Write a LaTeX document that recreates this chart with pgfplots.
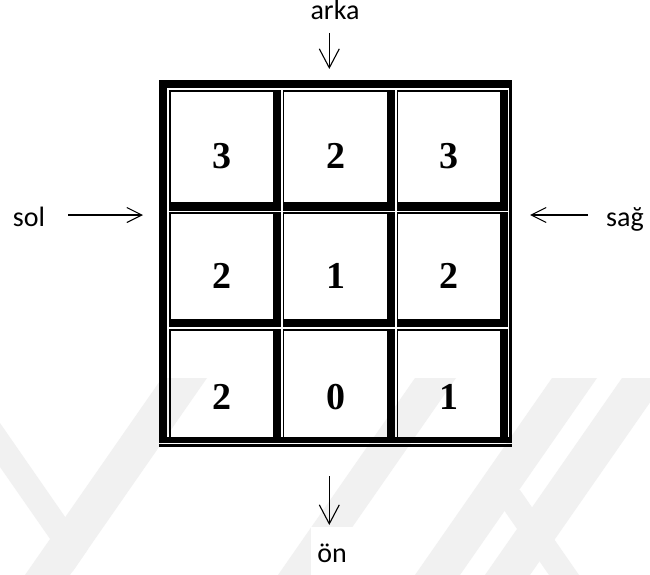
\documentclass[border=0pt]{standalone}
\usepackage{pgfplots}
\pgfplotsset{compat=1.18}
\usepackage{pgfplotstable}
\usepackage{fontspec}
\setmainfont{Carlito}
\newfontfamily\numfont{Liberation Serif}
\usetikzlibrary{arrows.meta}
\definecolor{wm}{RGB}{241,241,241}

\pgfplotstableread{
x y label
222 156 3
335.5 156 2
449 156 3
222 276 2
335.5 276 1
449 276 2
222 396.7 2
335.5 396.7 0
449 396.7 1
}\cellvalues

\newcommand{\cell}[8]{%
 \fill[black] (axis cs:#1,#5) rectangle (axis cs:#4,#6);
 \fill[black] (axis cs:#1,#5) rectangle (axis cs:#2,#8);
 \fill[black] (axis cs:#3,#5) rectangle (axis cs:#4,#8);
 \fill[black] (axis cs:#1,#7) rectangle (axis cs:#4,#8);
}

\begin{document}
\begin{tikzpicture}
\begin{axis}[
  width=650pt, height=575pt, scale only axis,
  xmin=0, xmax=650, ymin=0, ymax=575, y dir=reverse,
  hide axis, clip=true
]
% background
\fill[white] (axis cs:0,0) rectangle (axis cs:650,575);
% faint watermark bands
\fill[wm] (axis cs:162,378) -- (axis cs:207,378) -- (axis cs:70,575) -- (axis cs:25,575) -- cycle;
\fill[wm] (axis cs:0,423) -- (axis cs:87.7,549.5) -- (axis cs:72.7,571.5) -- (axis cs:0,467) -- cycle;
\fill[wm] (axis cs:415,378) -- (axis cs:456,378) -- (axis cs:319,575) -- (axis cs:278,575) -- cycle;
\fill[wm] (axis cs:552,378) -- (axis cs:597,378) -- (axis cs:460,575) -- (axis cs:415,575) -- cycle;
\fill[wm] (axis cs:622,378) -- (axis cs:667,378) -- (axis cs:530,575) -- (axis cs:485,575) -- cycle;
\fill[wm] (axis cs:520,490) -- (axis cs:579,575) -- (axis cs:549,575) -- (axis cs:490,490) -- cycle;
% white box behind "ön"
\fill[white] (axis cs:311,527) rectangle (axis cs:371,575);

% outer frame
\fill[black] (axis cs:159,80) rectangle (axis cs:511.7,88.3);
\fill[black] (axis cs:159,80) rectangle (axis cs:166.5,442.5);
\fill[black] (axis cs:509.3,80) rectangle (axis cs:511.7,437);
\fill[black] (axis cs:159,437) rectangle (axis cs:511.7,442.5);
\fill[black] (axis cs:159,444.3) rectangle (axis cs:511.7,446.7);

% cells
\cell{168.5}{170.5}{273.3}{281}{90.5}{92}{201.7}{210.7}
\cell{282.7}{284.3}{386.7}{395}{90.5}{92}{201.7}{210.7}
\cell{396.7}{398.3}{500}{507.7}{90.5}{92}{201.7}{210.7}
\cell{168.5}{170.5}{273.3}{281}{212.3}{214}{319.3}{327.3}
\cell{282.7}{284.3}{386.7}{395}{212.3}{214}{319.3}{327.3}
\cell{396.7}{398.3}{500}{507.7}{212.3}{214}{319.3}{327.3}
\cell{168.5}{170.5}{273.3}{281}{329.3}{330.7}{437}{442.5}
\cell{282.7}{284.3}{386.7}{395}{329.3}{330.7}{437}{442.5}
\cell{396.7}{398.3}{500}{507.7}{329.3}{330.7}{437}{442.5}

% values
\addplot[draw=none, mark=none, nodes near coords, point meta=explicit symbolic,
  nodes near coords align={center},
  every node near coord/.append style={anchor=center, inner sep=0pt,
    font=\numfont\bfseries\fontsize{38}{40}\selectfont}]
  table[x=x, y=y, meta=label] {\cellvalues};

% arrows
\draw[line width=1.1pt, -{Straight Barb[length=19pt,width=20pt,line width=1.1pt]}] (axis cs:329.3,33) -- (axis cs:329.3,69);
\draw[line width=1.1pt, -{Straight Barb[length=19pt,width=20pt,line width=1.1pt]}] (axis cs:329.3,476) -- (axis cs:329.3,525);
\draw[line width=1.1pt, -{Straight Barb[length=15pt,width=15pt,line width=1.1pt]}] (axis cs:68,215) -- (axis cs:143,215);
\draw[line width=1.1pt, -{Straight Barb[length=15pt,width=15pt,line width=1.1pt]}] (axis cs:588,215) -- (axis cs:530,215);

% labels
\node[anchor=base, inner sep=0pt, font=\fontsize{28}{30}\selectfont] at (axis cs:335,20) {arka};
\node[anchor=base, inner sep=0pt, font=\fontsize{28}{30}\selectfont] at (axis cs:29,226.7) {sol};
\node[anchor=base, inner sep=0pt, font=\fontsize{28}{30}\selectfont] at (axis cs:625,226.7) {sağ};
\node[anchor=base, inner sep=0pt, font=\fontsize{28}{30}\selectfont] at (axis cs:332,562.7) {ön};
\end{axis}
\end{tikzpicture}
\end{document}
